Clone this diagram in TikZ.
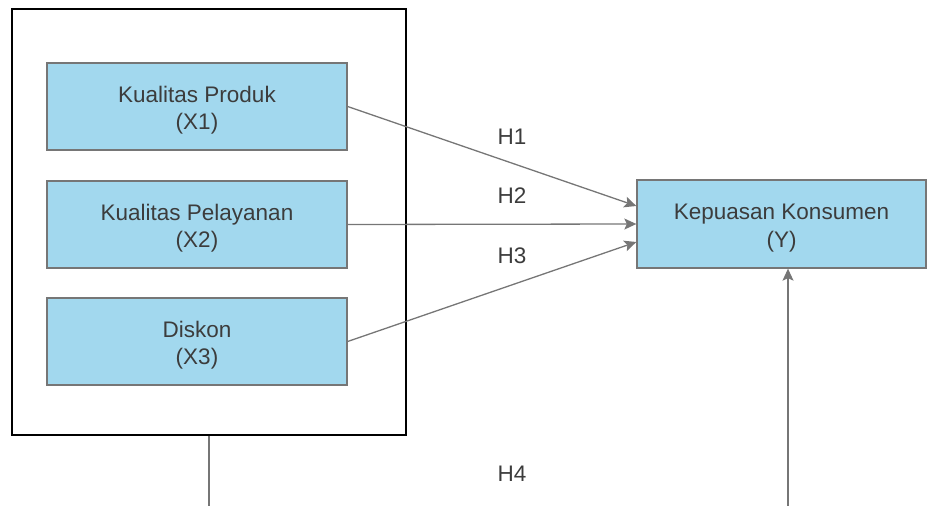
\documentclass[tikz,border=0pt]{standalone}
\usepackage{fontspec}
\setmainfont{Liberation Sans}
\usetikzlibrary{arrows.meta}
\definecolor{boxblue}{RGB}{162,216,238}
\definecolor{edgegray}{RGB}{118,118,118}
\definecolor{txtgray}{RGB}{60,60,60}
\newcommand\twoline[2]{\raisebox{-4pt}[\height][\depth]{\begin{tabular}{@{}c@{}}#1\\#2\end{tabular}}}
\begin{document}
\begin{tikzpicture}[x=1pt,y=-1pt,
  txt/.style={text=txtgray, font=\fontsize{22.5}{27.5}\selectfont},
  var/.style={txt, draw=edgegray, fill=boxblue, line width=1.3pt, minimum width=300pt, minimum height=87pt, inner sep=0pt},
  frame/.style={draw=black, line width=1.6pt, minimum width=394pt, minimum height=426pt, inner sep=0pt},
  link/.style={draw=edgegray, line width=1.3pt},
  arr/.style={link, -{Stealth[length=12pt,width=11pt,inset=2.5pt]}},
  hlab/.style={txt, inner sep=0pt}]
\useasboundingbox (0,0) rectangle (927,506);
\node[frame] (outer) at (209,222) {};
\node[var] (x1) at (197,106.5) {\twoline{Kualitas Produk}{(X1)}};
\node[var] (x2) at (197,224.5) {\twoline{Kualitas Pelayanan}{(X2)}};
\node[var] (x3) at (197,341.5) {\twoline{Diskon}{(X3)}};
\node[var, minimum width=289pt, minimum height=88pt] (y) at (781.5,224) {\twoline{Kepuasan Konsumen}{(Y)}};
\coordinate (ytop) at ([yshift=18pt]y.west);
\coordinate (ymid) at (y.west);
\coordinate (ybot) at ([yshift=-18pt]y.west);
\draw[arr] (x1.east) -- (ytop);
\draw[arr] (x2.east) -- (ymid);
\draw[arr] (x3.east) -- (ybot);
\coordinate (downend) at (209,506);
\coordinate (upstart) at (788,506);
\draw[link] (outer.south) -- (downend);
\draw[arr] (upstart) -- (y.south -| upstart);
\node[hlab] (h1) at (512,137) {H1};
\node[hlab] (h2) at (512,196) {H2};
\node[hlab] (h3) at (512,256) {H3};
\node[hlab] (h4) at (512,474) {H4};
\end{tikzpicture}
\end{document}
